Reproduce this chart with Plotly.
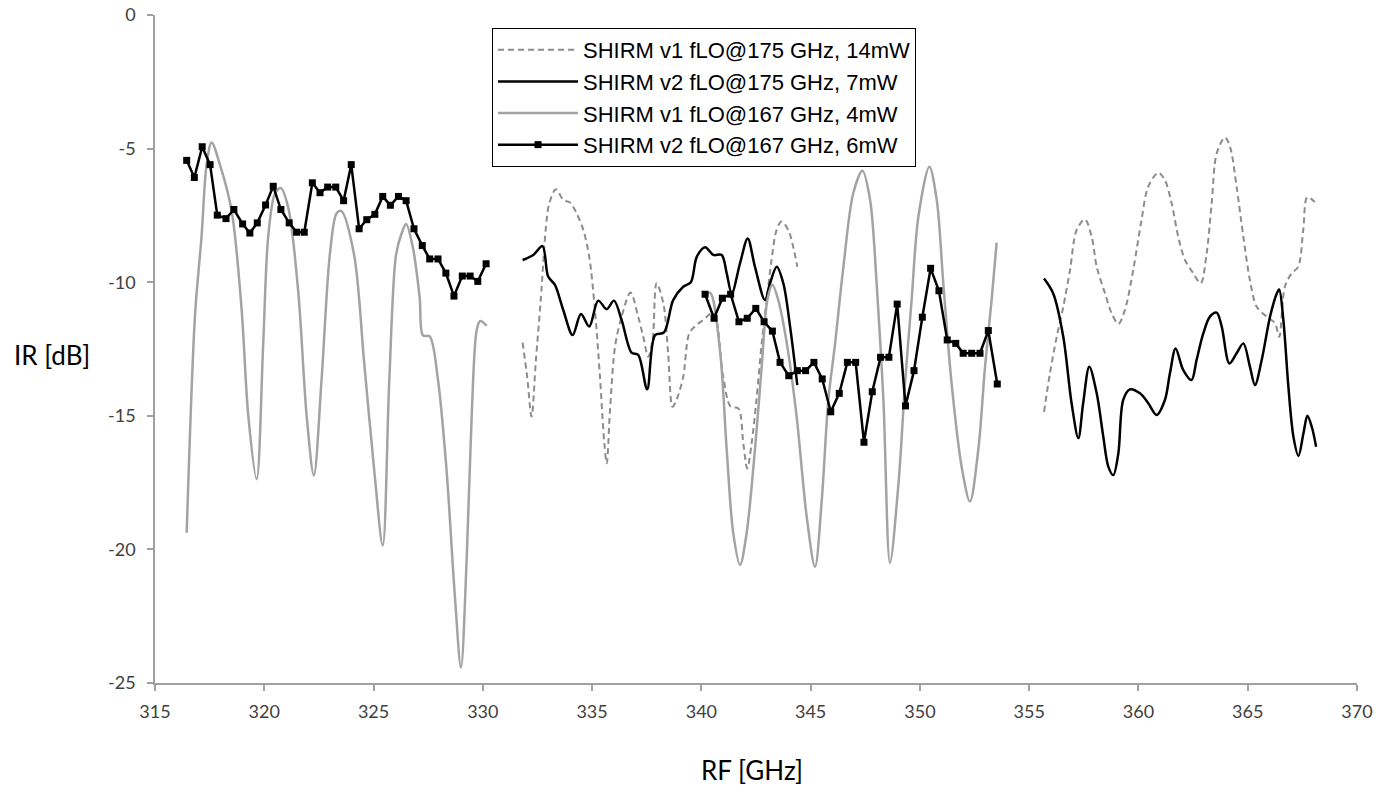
import plotly.graph_objects as go

# ---- data ----
# SHIRM v1 fLO@175 GHz, 14mW (dashed grey)
v1_175_x = [331.82, 332.03, 332.23, 332.43, 332.65, 332.89, 333.04, 333.35, 333.68, 333.99, 334.29, 334.60,
            334.87, 335.13, 335.36, 335.56, 335.67, 335.82, 336.05, 336.35, 336.76, 337.11, 337.34, 337.57,
            337.77, 337.95, 338.26, 338.48, 338.68, 338.86, 339.17, 339.45, 339.78, 340.09, 340.55, 341.00,
            341.34, 341.69, 341.92, 342.10, 342.30, 342.52, 342.76, 342.99, 343.21, 343.44, 343.67, 343.98,
            344.20, 344.39,
            None,
            355.68, 355.95, 356.26, 356.56, 356.87, 357.17, 357.55, 357.86, 358.09, 358.47, 358.77, 359.08,
            359.38, 359.76, 360.14, 360.45, 360.91, 361.21, 361.52, 361.82, 362.13, 362.51, 362.85, 363.12,
            363.35, 363.58, 363.96, 364.19, 364.49, 364.80, 365.10, 365.41, 365.87, 366.25, 366.44, 366.70,
            367.01, 367.31, 367.54, 367.73, 368.13]
v1_175_y = [-12.26, -13.54, -15.03, -12.91, -10.67, -7.92, -7.05, -6.52, -6.92, -7.02, -7.42, -8.05,
            -9.05, -11.04, -13.54, -16.03, -16.78, -14.78, -12.41, -11.29, -10.39, -11.29, -12.04, -12.79,
            -12.16, -10.04, -10.79, -12.66, -14.66, -14.41, -13.54, -11.91, -11.60, -11.41, -11.14, -13.54,
            -14.66, -14.72, -16.03, -16.97, -16.03, -14.41, -12.29, -10.67, -9.17, -8.05, -7.73, -8.05,
            -8.67, -9.42,
            None,
            -14.85, -13.41, -12.04, -10.92, -9.54, -8.05, -7.65, -8.30, -9.42, -10.42, -11.16, -11.56,
            -11.04, -9.54, -7.67, -6.42, -5.90, -6.18, -7.05, -8.30, -9.17, -9.67, -10.04, -8.92,
            -7.05, -5.18, -4.58, -4.93, -6.42, -8.30, -9.92, -10.92, -11.29, -11.54, -12.04, -10.17,
            -9.67, -9.42, -8.05, -6.82, -7.05]

# SHIRM v2 fLO@175 GHz, 7mW (solid black)
v2_175_x = [331.82, 332.31, 332.73, 332.99, 333.30, 333.68, 334.11, 334.49, 334.87, 335.28, 335.67, 336.00,
            336.35, 336.81, 337.11, 337.52, 337.88, 338.29, 338.71, 339.17, 339.52, 339.79, 340.17, 340.55,
            340.93, 341.16, 341.39, 341.77, 342.12, 342.45, 342.91, 343.14, 343.45, 343.75, 344.06, 344.39,
            None,
            355.68, 356.10, 356.56, 356.94, 357.25, 357.47, 357.75, 358.09, 358.39, 358.62, 358.85, 359.08,
            359.30, 359.61, 360.07, 360.45, 360.83, 361.21, 361.44, 361.70, 362.05, 362.43, 362.66, 362.97,
            363.27, 363.58, 363.81, 364.16, 364.49, 364.80, 365.10, 365.33, 365.64, 366.02, 366.33, 366.44,
            366.63, 366.86, 367.09, 367.32, 367.55, 367.73, 367.93, 368.13]
v2_175_y = [-9.17, -8.98, -8.65, -9.79, -10.10, -11.04, -11.98, -11.19, -11.66, -10.69, -11.01, -10.69,
            -11.41, -12.64, -12.72, -14.01, -11.98, -11.88, -10.67, -10.17, -10.00, -9.05, -8.69, -8.98,
            -8.98, -9.67, -10.42, -9.29, -8.36, -9.42, -10.67, -10.04, -9.42, -10.04, -11.66, -13.85,
            None,
            -9.86, -10.42, -12.04, -14.53, -15.84, -14.53, -13.16, -14.16, -15.78, -16.90, -17.22, -16.40,
            -14.41, -14.01, -14.16, -14.53, -14.97, -14.41, -13.41, -12.48, -13.29, -13.66, -12.91, -11.91,
            -11.29, -11.14, -11.66, -13.04, -12.66, -12.29, -13.16, -13.85, -12.91, -11.29, -10.42, -10.27,
            -11.41, -13.91, -15.78, -16.50, -15.65, -15.00, -15.41, -16.16]

# SHIRM v1 fLO@167 GHz, 4mW (solid grey)
v1_167_x = [316.45, 316.83, 317.13, 317.36, 317.59, 317.97, 318.51, 318.96, 319.27, 319.65, 319.95, 320.18,
            320.49, 320.76, 321.10, 321.55, 321.94, 322.27, 322.62, 323.00, 323.31, 323.52, 324.11, 324.57,
            325.03, 325.42, 325.72, 326.03, 326.29, 326.49, 326.80, 327.11, 327.26, 327.57, 327.95, 328.34,
            328.72, 329.00, 329.26, 329.49, 329.72, 329.88, 330.18,
            None,
            340.10, 340.40, 340.85, 341.16, 341.46, 341.77, 342.07, 342.45, 342.76, 343.02, 343.25, 343.52,
            343.91, 344.36, 344.82, 345.20, 345.51, 345.81, 346.12, 346.50, 346.95, 347.37, 347.72, 348.02,
            348.33, 348.63, 349.02, 349.32, 349.62, 349.93, 350.43, 350.77, 351.07, 351.45, 351.91, 352.29,
            352.67, 352.98, 353.28, 353.51]
v1_167_y = [-19.38, -11.25, -8.29, -5.60, -4.77, -5.60, -7.35, -10.98, -15.01, -17.37, -12.33, -8.29,
            -6.68, -6.48, -7.22, -10.31, -15.01, -17.23, -13.67, -8.97, -7.42, -7.33, -8.97, -13.00,
            -17.03, -19.85, -13.67, -8.97, -8.16, -7.82, -8.70, -10.58, -11.99, -12.03, -13.67, -17.03,
            -21.73, -24.42, -20.39, -15.01, -11.79, -11.45, -11.63,
            None,
            -10.55, -10.40, -12.54, -16.28, -19.40, -20.58, -19.40, -16.28, -13.16, -10.67, -10.10, -10.67,
            -12.29, -15.03, -18.78, -20.65, -18.15, -14.41, -12.29, -9.42, -6.67, -5.83, -6.92, -10.04,
            -14.41, -20.50, -17.53, -13.79, -10.67, -7.55, -5.68, -6.92, -10.04, -13.79, -16.91, -18.21,
            -16.28, -13.16, -10.67, -8.52]

# SHIRM v2 fLO@167 GHz, 6mW (black with square markers)
v2_167_x = [316.45, 316.80, 317.16, 317.52, 317.85, 318.25, 318.61, 319.01, 319.34, 319.68, 320.06, 320.41,
            320.76, 321.14, 321.48, 321.83, 322.20, 322.55, 322.90, 323.27, 323.63, 323.98, 324.34, 324.69,
            325.06, 325.42, 325.77, 326.14, 326.49, 326.85, 327.23, 327.57, 327.95, 328.31, 328.68, 329.06,
            329.42, 329.77, 330.15,
            None,
            340.17, 340.58, 340.96, 341.34, 341.72, 342.10, 342.49, 342.87, 343.25, 343.60, 344.00, 344.39,
            344.77, 345.15, 345.53, 345.92, 346.31, 346.68, 347.06, 347.44, 347.82, 348.20, 348.58, 348.96,
            349.34, 349.73, 350.11, 350.49, 350.87, 351.25, 351.64, 351.98, 352.37, 352.75, 353.13, 353.54]
v2_167_y = [-5.44, -6.08, -4.93, -5.60, -7.49, -7.62, -7.28, -7.82, -8.16, -7.78, -7.11, -6.41,
            -7.28, -7.78, -8.13, -8.13, -6.28, -6.65, -6.44, -6.44, -6.95, -5.60, -8.00, -7.66,
            -7.46, -6.79, -7.12, -6.79, -6.95, -8.00, -8.63, -9.13, -9.13, -9.66, -10.52, -9.77,
            -9.77, -9.97, -9.31,
            None,
            -10.45, -11.35, -10.60, -10.45, -11.48, -11.35, -10.98, -11.48, -11.83, -13.00, -13.50, -13.31,
            -13.31, -13.00, -13.62, -14.85, -14.16, -13.00, -13.00, -15.99, -14.10, -12.81, -12.81, -10.82,
            -14.63, -13.31, -11.31, -9.48, -10.32, -12.16, -12.29, -12.66, -12.66, -12.66, -11.81, -13.81]

x_ticks = [315, 320, 325, 330, 335, 340, 345, 350, 355, 360, 365, 370]
y_ticks = [-25, -20, -15, -10, -5, 0]
y_tick_labels = ["-25", "-20", "-15", "-10", "-5", "0"]

names = ["SHIRM v1 fLO@175 GHz, 14mW", "SHIRM v2 fLO@175 GHz, 7mW",
         "SHIRM v1 fLO@167 GHz, 4mW", "SHIRM v2 fLO@167 GHz, 6mW"]

fig = go.Figure()
fig.add_trace(go.Scatter(x=v1_175_x, y=v1_175_y, name=names[0], mode="lines",
                         line=dict(color="#8c8c8c", width=2, dash="6px,4px", shape="spline", smoothing=0.9),
                         connectgaps=False))
fig.add_trace(go.Scatter(x=v2_175_x, y=v2_175_y, name=names[1], mode="lines",
                         line=dict(color="#000000", width=2.5, shape="spline", smoothing=0.9),
                         connectgaps=False))
fig.add_trace(go.Scatter(x=v1_167_x, y=v1_167_y, name=names[2], mode="lines",
                         line=dict(color="#a3a3a3", width=2.5, shape="spline", smoothing=0.9),
                         connectgaps=False))
fig.add_trace(go.Scatter(x=v2_167_x, y=v2_167_y, name=names[3], mode="lines+markers",
                         line=dict(color="#000000", width=2.5),
                         marker=dict(symbol="square", size=7, color="#000000"),
                         connectgaps=False))

axis_color = "#a0a0a0"
tick_font = dict(family="Lato, 'Open Sans', sans-serif", size=18, color="#404040")

fig.update_layout(
    width=1393, height=789,
    margin=dict(l=155, r=36, t=15, b=106, autoexpand=False),
    paper_bgcolor="white", plot_bgcolor="white",
    showlegend=True,
    legend=dict(x=0.2804, y=0.9805, xanchor="left", yanchor="top",
                bordercolor="#000000", borderwidth=1, bgcolor="white",
                font=dict(family="Liberation Sans, Arial, sans-serif", size=22, color="#000000"),
                itemwidth=80, tracegroupgap=0),
    xaxis=dict(range=[315, 370], tickvals=x_ticks, showgrid=False, zeroline=False,
               showline=True, linecolor=axis_color, linewidth=1.5, automargin=False,
               ticks="outside", ticklen=6, tickcolor=axis_color, tickwidth=1.5,
               tickfont=tick_font, ticklabelstandoff=6),
    yaxis=dict(range=[-25, 0], tickvals=y_ticks, ticktext=y_tick_labels, showgrid=False, zeroline=False,
               showline=True, linecolor=axis_color, linewidth=1.5, automargin=False,
               ticks="outside", ticklen=6, tickcolor=axis_color, tickwidth=1.5,
               tickfont=tick_font, ticklabelstandoff=8),
    annotations=[
        dict(text="IR [dB]", xref="paper", yref="paper", x=-0.0857, y=0.491,
             xanchor="center", yanchor="middle", showarrow=False,
             font=dict(family="Lato, sans-serif", size=26, color="#000000")),
        dict(text="RF [GHz]", xref="paper", yref="paper", x=0.4967, y=-0.130,
             xanchor="center", yanchor="middle", showarrow=False,
             font=dict(family="Lato, sans-serif", size=26, color="#000000")),
    ],
)

fig.write_html("out.html")
